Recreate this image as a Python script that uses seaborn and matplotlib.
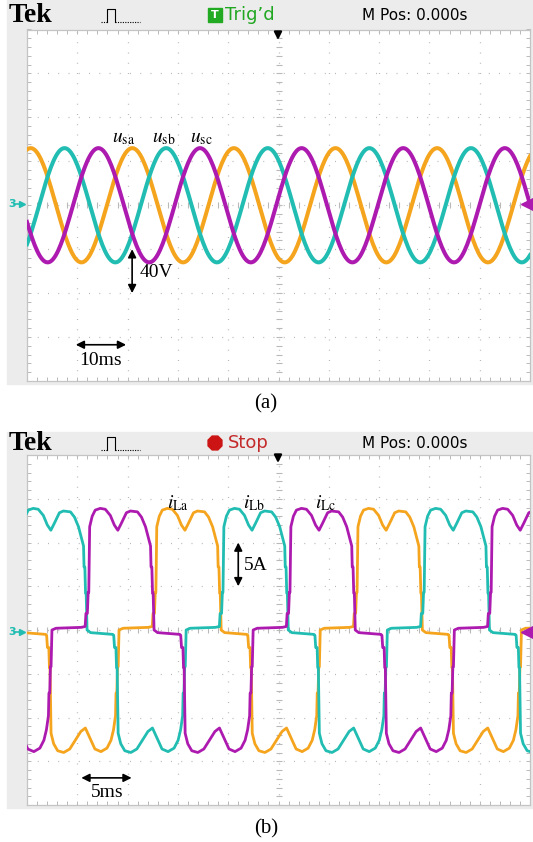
import numpy as np
import pandas as pd
import matplotlib
matplotlib.use("Agg")
import matplotlib.pyplot as plt
import seaborn as sns
from matplotlib.patches import Rectangle, RegularPolygon

# ---------------- data ----------------
PHASES = ["a", "b", "c"]
PHASE_COLORS = {"a": "#F5A41E", "b": "#22BDB2", "c": "#AD1AAF"}

# (a) supply phase voltages: 40 V/div, 10 ms/div
U_AMPLITUDE = 52.0            # V
U_PERIOD = 20.2               # ms
U_FIRST_CREST = 0.73          # ms, first crest of u_sa
U_LAG = {"a": 0.0, "b": 1 / 3, "c": 2 / 3}   # fraction of a period
U_LABELS = [r"$u_{\rm sa}$", r"$u_{\rm sb}$", r"$u_{\rm sc}$"]
U_LABEL_T = [16.9, 24.8, 32.4]
U_LABEL_V = 57.0

# (b) load currents: 5 A/div, 5 ms/div
I_PERIOD = 20.0
I_RISE = {"a": 12.45, "b": 19.12, "c": 5.78}   # ms, rising edge of each phase
# one period of the current, time measured from the rising edge
I_PROFILE_T = [0.00, 0.08, 0.22, 0.30, 0.36, 0.45, 0.70, 1.00, 1.50, 2.00,
               2.50, 2.90, 3.25, 3.60, 4.10, 4.50, 5.20, 5.60, 6.00, 6.30,
               6.50, 6.55, 6.63, 6.70, 6.76, 6.85, 7.20, 9.40, 9.50, 9.58,
               9.72, 9.78, 9.84, 9.94, 10.20, 10.60, 11.20, 11.80, 12.40, 12.90,
               13.35, 13.75, 14.30, 14.90, 15.50, 15.90, 16.15, 16.35, 16.40, 16.48,
               16.55, 16.61, 16.70, 17.10, 19.60, 20.00]
I_PROFILE_A = [0.4, 1.9, 1.9, 4.3, 4.3, 11.8, 13.0, 13.7, 13.9, 13.8,
               13.1, 12.0, 11.4, 12.2, 13.4, 13.6, 13.5, 12.9, 11.8, 10.5,
               9.6, 7.2, 7.2, 4.2, 4.2, 0.0, -0.3, -0.5, -0.6, -2.0,
               -2.0, -4.3, -4.3, -11.8, -13.0, -13.8, -14.0, -13.6, -12.5, -11.6,
               -11.2, -12.2, -13.6, -13.9, -13.5, -12.6, -11.4, -9.8, -7.2, -7.2,
               -4.2, -4.2, 0.0, 0.2, 0.3, 0.4]
I_LABELS = [r"$i_{\rm La}$", r"$i_{\rm Lb}$", r"$i_{\rm Lc}$"]
I_LABEL_T = [13.9, 21.5, 28.6]
I_LABEL_A = 13.9

# ---------------- layout (pixels) ----------------
W, H = 533, 842
GRID_X0, GRID_X1 = 27, 530
A_TOP, A_BOT = 29.5, 381
B_TOP, B_BOT = 455, 805
SCREEN_GRAY = "#ECECEC"
GRID_GRAY = "#B9B9B9"

plt.rcParams["mathtext.fontset"] = "stix"

fig = plt.figure(figsize=(W / 100, H / 100), dpi=100)
bg = fig.add_axes([0, 0, 1, 1], zorder=0)
bg.set_xlim(0, W)
bg.set_ylim(H, 0)
bg.axis("off")
fg = fig.add_axes([0, 0, 1, 1], zorder=10)
fg.set_xlim(0, W)
fg.set_ylim(H, 0)
fg.axis("off")
fg.patch.set_alpha(0)


def frac_box(x0, x1, y0, y1):
    return [x0 / W, 1 - y1 / H, (x1 - x0) / W, (y1 - y0) / H]


def scope_grid(ax, xlim, ylim):
    x0, x1 = xlim
    y0, y1 = ylim
    ax.set_xlim(x0, x1)
    ax.set_ylim(y0, y1)
    ax.set_facecolor("white")
    xd = np.linspace(x0, x1, 11)
    yd = np.linspace(y0, y1, 9)
    dots = (0, (0.8, 7.4))
    for x in xd[1:-1]:
        ax.axvline(x, color=GRID_GRAY, lw=0.9, ls=dots, zorder=0.5)
    for y in yd[1:-1]:
        ax.axhline(y, color=GRID_GRAY, lw=0.9, ls=dots, zorder=0.5)
    xm = np.linspace(x0, x1, 51)
    ym = np.linspace(y0, y1, 41)
    xc, yc = xd[5], yd[4]
    ax.plot(xm, np.full_like(xm, yc), ls="none", marker="|", ms=4.5,
            mew=0.8, color=GRID_GRAY, zorder=0.6)
    ax.plot(np.full_like(ym, xc), ym, ls="none", marker="_", ms=4.5,
            mew=0.8, color=GRID_GRAY, zorder=0.6)
    ax.set_xticks([])
    ax.set_yticks([])
    ax.set_xticks(xm, minor=True)
    ax.set_yticks(ym, minor=True)
    ax.tick_params(which="minor", direction="in", length=3, width=0.7,
                   color=GRID_GRAY, top=True, right=True, bottom=True, left=True,
                   labelbottom=False, labelleft=False)
    for s in ax.spines.values():
        s.set_color("#C4C4C4")
        s.set_linewidth(0.9)
    ax.set_xlabel("")
    ax.set_ylabel("")


def double_arrow(ax, p1, p2):
    ax.annotate("", xy=p1, xytext=p2,
                arrowprops=dict(arrowstyle="<|-|>", color="black", lw=1.2,
                                mutation_scale=12, shrinkA=0, shrinkB=0))


def header(yc, running):
    bg.text(9, yc, "Tek", family="Liberation Serif", weight="bold",
            fontsize=20, va="center", ha="left")
    bg.plot([101, 107], [yc + 7, yc + 7], color="k", lw=0.8, ls=(0, (1, 1.2)))
    bg.plot([107, 107, 115, 115], [yc + 7, yc - 6, yc - 6, yc + 7], color="k", lw=0.8)
    bg.plot([115, 140], [yc + 7, yc + 7], color="k", lw=0.8, ls=(0, (1, 1.2)))
    if running:
        bg.add_patch(Rectangle((208, yc - 7), 14, 14, color="#22AA22"))
        bg.text(215, yc + 0.5, "T", color="white", weight="bold", fontsize=8,
                ha="center", va="center", family="DejaVu Sans")
        bg.text(225, yc, "Trig\u2019d", color="#22A722", fontsize=13,
                ha="left", va="center", family="DejaVu Sans")
    else:
        bg.add_patch(RegularPolygon((215, yc), 8, radius=7.5,
                                    orientation=np.pi / 8, color="#CC1414"))
        bg.text(228, yc, "Stop", color="#C42A2A", fontsize=13,
                ha="left", va="center", family="DejaVu Sans")
    bg.text(362, yc, "M Pos: 0.000s", fontsize=11, ha="left", va="center",
            family="DejaVu Sans")


def side_markers(yc, color_left, color_right):
    bg.text(8, yc, "3", color=color_left, fontsize=8, weight="bold",
            ha="left", va="center", family="DejaVu Sans")
    bg.plot([14, 22], [yc, yc], color=color_left, lw=1.2)
    bg.plot([22], [yc], marker=">", ms=5, color=color_left)
    fg.plot([527], [yc], marker="<", ms=8, color=color_right)


def trigger_arrow(y):
    fg.annotate("", xy=(278, y + 8), xytext=(278, y),
                arrowprops=dict(arrowstyle="-|>", color="black", lw=1.6,
                                mutation_scale=11, shrinkA=0, shrinkB=0))


# screen backgrounds
bg.add_patch(Rectangle((7, 0), W - 7, 384, color=SCREEN_GRAY))
bg.add_patch(Rectangle((7, 432), W - 7, 808 - 432, color=SCREEN_GRAY))

# ---------------- (a) voltages ----------------
ax_a = fig.add_axes(frac_box(GRID_X0, GRID_X1, A_TOP, A_BOT), zorder=2)
t = np.arange(0.0, 100.01, 0.25)
rows = []
for p in PHASES:
    crest = U_FIRST_CREST + U_LAG[p] * U_PERIOD
    u = U_AMPLITUDE * np.cos(2 * np.pi * (t - crest) / U_PERIOD)
    rows.append(pd.DataFrame({"t": t, "u": u, "phase": p}))
df_u = pd.concat(rows, ignore_index=True)
sns.lineplot(data=df_u, x="t", y="u", hue="phase", palette=PHASE_COLORS,
             estimator=None, sort=False, lw=2.9, legend=False, ax=ax_a, zorder=3)
scope_grid(ax_a, (0, 100), (-160, 160))
for lbl, tx in zip(U_LABELS, U_LABEL_T):
    ax_a.text(tx, U_LABEL_V, lbl, fontsize=14, ha="left", va="baseline", zorder=5)
double_arrow(ax_a, (20.9, -40), (20.9, -80))
ax_a.text(22.4, -61, "40V", family="Liberation Serif", fontsize=14,
          ha="left", va="center", zorder=5)
double_arrow(ax_a, (9.7, -127), (19.7, -127))
ax_a.text(10.4, -141, "10ms", family="Liberation Serif", fontsize=14,
          ha="left", va="center", zorder=5)

header(15, True)
side_markers(204, PHASE_COLORS["b"], PHASE_COLORS["c"])
trigger_arrow(32)
bg.text(266, 404, "(a)", family="Liberation Serif", fontsize=15,
        ha="center", va="center")

# ---------------- (b) currents ----------------
ax_b = fig.add_axes(frac_box(GRID_X0, GRID_X1, B_TOP, B_BOT), zorder=2)
prof_t = np.asarray(I_PROFILE_T)
prof_i = np.asarray(I_PROFILE_A)
rows = []
for p in PHASES:
    tt, ii = [], []
    for k in range(-1, 3):
        tt.append(prof_t + I_RISE[p] + k * I_PERIOD)
        ii.append(prof_i)
    rows.append(pd.DataFrame({"t": np.concatenate(tt), "i": np.concatenate(ii),
                              "phase": p}))
df_i = pd.concat(rows, ignore_index=True)
sns.lineplot(data=df_i, x="t", y="i", hue="phase", palette=PHASE_COLORS,
             estimator=None, sort=False, lw=2.0, legend=False, ax=ax_b, zorder=3)
scope_grid(ax_b, (0, 50), (-20, 20))
for lbl, tx in zip(I_LABELS, I_LABEL_T):
    ax_b.text(tx, I_LABEL_A, lbl, fontsize=14, ha="left", va="baseline", zorder=5)
double_arrow(ax_b, (21.0, 5), (21.0, 10))
ax_b.text(21.6, 7.4, "5A", family="Liberation Serif", fontsize=14,
          ha="left", va="center", zorder=5)
double_arrow(ax_b, (5.4, -16.9), (10.4, -16.9))
ax_b.text(6.3, -18.6, "5ms", family="Liberation Serif", fontsize=14,
          ha="left", va="center", zorder=5)

header(443, False)
side_markers(632, PHASE_COLORS["b"], PHASE_COLORS["c"])
trigger_arrow(455)
bg.text(266, 829, "(b)", family="Liberation Serif", fontsize=15,
        ha="center", va="center")

fig.savefig("out.png", dpi=100)
